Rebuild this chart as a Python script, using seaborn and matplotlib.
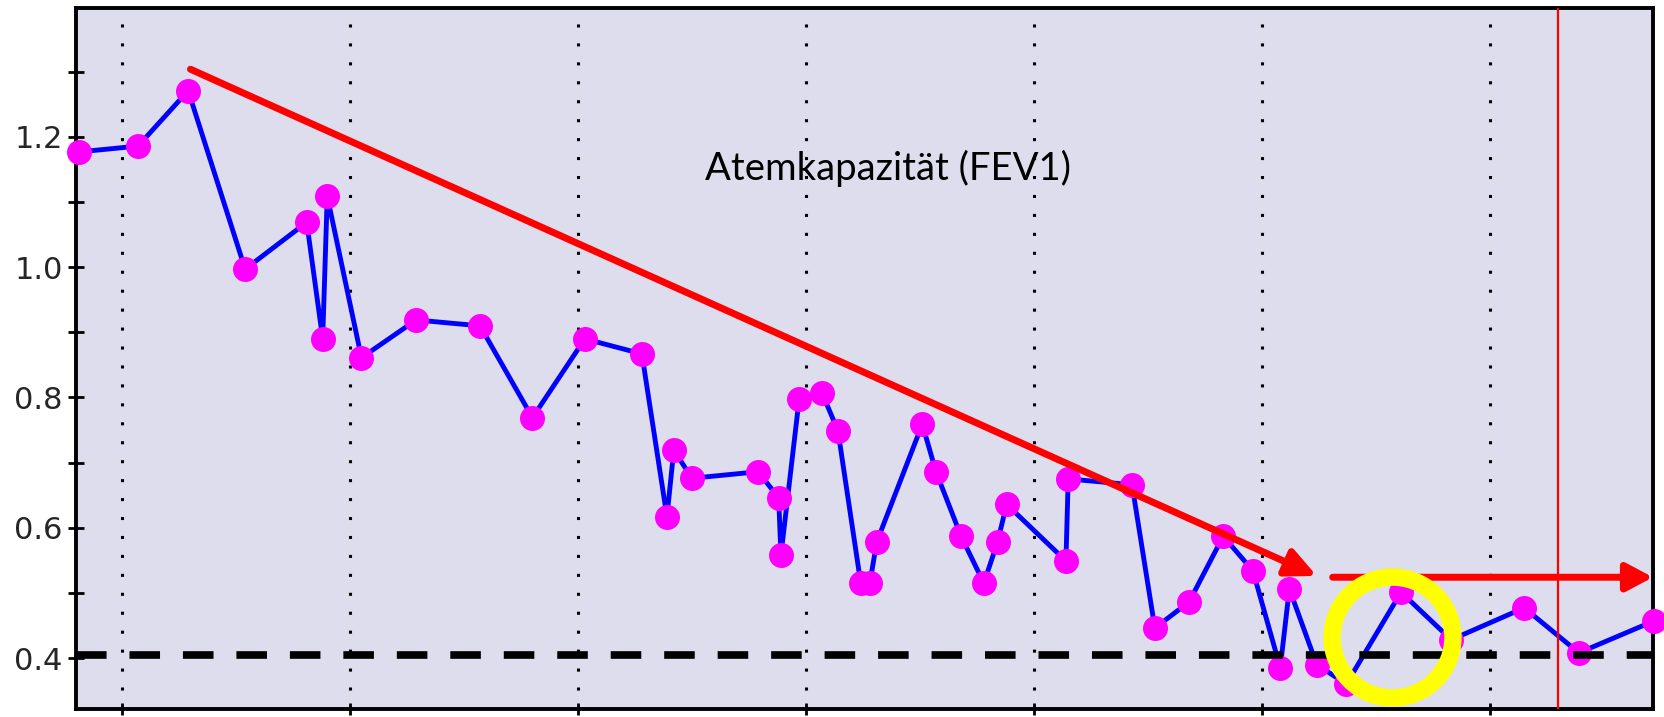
import numpy as np
import pandas as pd
import matplotlib
matplotlib.use('Agg')
import matplotlib.pyplot as plt
import seaborn as sns

# Messzeitpunkte (Einheiten = Abstand der Rasterlinien) und FEV1-Werte
t = [-0.19, 0.07, 0.29, 0.54, 0.81, 0.88, 0.90, 1.05, 1.29, 1.57, 1.80, 2.03,
     2.28, 2.39, 2.42, 2.50, 2.79, 2.88, 2.89, 2.97, 3.07, 3.14, 3.24, 3.28,
     3.31, 3.51, 3.57, 3.68, 3.78, 3.84, 3.88, 4.14, 4.15, 4.43, 4.53, 4.68,
     4.83, 4.96, 5.08, 5.12, 5.24, 5.37, 5.61, 5.83, 6.15, 6.39, 6.72]
fev1 = [1.177, 1.186, 1.271, 0.997, 1.069, 0.890, 1.109, 0.861, 0.919, 0.910,
        0.769, 0.890, 0.867, 0.617, 0.719, 0.676, 0.686, 0.646, 0.558, 0.798,
        0.807, 0.749, 0.515, 0.515, 0.578, 0.759, 0.686, 0.587, 0.515, 0.578,
        0.636, 0.549, 0.675, 0.666, 0.446, 0.486, 0.587, 0.534, 0.385, 0.506,
        0.390, 0.360, 0.501, 0.428, 0.477, 0.408, 0.457]

ytick_major = [0.4, 0.6, 0.8, 1.0, 1.2]
ytick_minor = [0.5, 0.7, 0.9, 1.1, 1.3]
xticks = [0, 1, 2, 3, 4, 5, 6]
grenzwert = 0.405
marker_t = 6.3
trend_von = (0.30, 1.304)
trend_bis = (5.24, 0.526)
plateau_von = (5.31, 0.524)
plateau_bis = (6.715, 0.524)
kreis = (5.57, 0.432)
titel = 'Atemkapazität (FEV1)'

df = pd.DataFrame({'t': t, 'fev1': fev1})

sns.set_style('white', {'axes.facecolor': '#DEDDEE', 'axes.edgecolor': 'black'})
plt.rcParams['font.family'] = ['DejaVu Sans']

fig = plt.figure(figsize=(16.65, 7.17), dpi=100)
ax = fig.add_axes([76 / 1665, 8 / 717, (1653 - 76) / 1665, 701 / 717])

sns.lineplot(data=df, x='t', y='fev1', sort=False, ax=ax, color='#0000FF', lw=3.5,
             marker='o', markersize=18, markerfacecolor='#FF00FF',
             markeredgewidth=0, clip_on=False, zorder=3)

ax.set_xlim(-0.202, 6.715)
ax.set_ylim(0.3217, 1.398)
ax.set_xlabel('')
ax.set_ylabel('')

ax.set_xticks(xticks)
ax.set_xticklabels([])
ax.set_yticks(ytick_major)
ax.set_yticklabels([f'{v:.1f}' for v in ytick_major], fontsize=22)
ax.set_yticks(ytick_minor, minor=True)
ax.tick_params(axis='y', which='both', direction='inout', length=11, width=2,
               left=True, color='black', pad=4)
ax.tick_params(axis='x', which='both', direction='inout', length=9, width=2,
               bottom=True, color='black')
ax.grid(axis='x', color='black', lw=2.2, linestyle=(0, (1, 5.2)), zorder=1)
ax.set_axisbelow(True)
for s in ax.spines.values():
    s.set_linewidth(2.8)
    s.set_visible(True)

# Grenzwert
ax.axhline(grenzwert, color='black', lw=5.5, dashes=(4, 3), zorder=4)

# Trendpfeile
ax.annotate('', xy=trend_bis, xytext=trend_von,
            arrowprops=dict(arrowstyle='-|>,head_length=1.8,head_width=0.85',
                            color='#FF0000', lw=5, shrinkA=0, shrinkB=0,
                            mutation_scale=10), zorder=5)
ax.annotate('', xy=plateau_bis, xytext=plateau_von,
            arrowprops=dict(arrowstyle='-|>,head_length=1.6,head_width=0.85',
                            color='#FF0000', lw=5, shrinkA=0, shrinkB=0,
                            mutation_scale=10), zorder=5)
ax.axvline(marker_t, color='#FF0000', lw=1.6, zorder=6)

# Markierung
ax.plot([kreis[0]], [kreis[1]], marker='o', markersize=87, markerfacecolor='none',
        markeredgecolor='#FFFF00', markeredgewidth=12.5, zorder=7)

ax.text(3.36, 1.134, titel, ha='center', va='baseline', fontsize=27.5,
        family=['Lato', 'DejaVu Sans'], color='black', zorder=8)

fig.savefig('out.png', dpi=100)
